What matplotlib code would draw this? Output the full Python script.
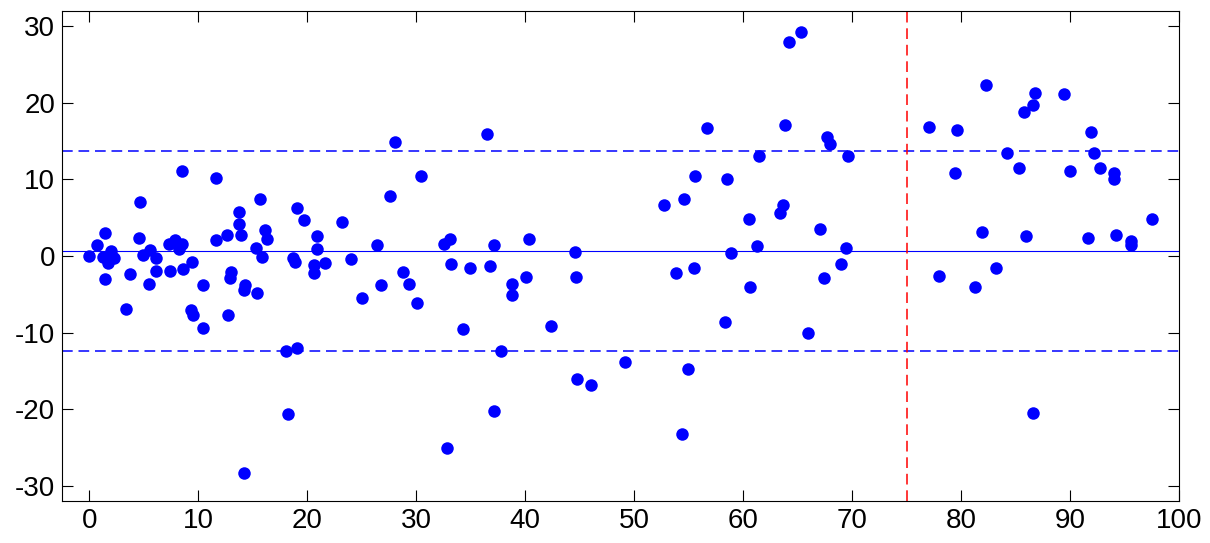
import matplotlib
matplotlib.use("Agg")
import matplotlib.pyplot as plt
import numpy as np

plt.rcParams['font.family'] = ['Liberation Sans', 'DejaVu Sans']
plt.rcParams['axes.unicode_minus'] = False

# scatter points
x_vals = [0.0, 0.7, 1.44, 1.44, 1.26, 1.72, 2.0, 2.3, 1.9, 3.4,
          3.7, 4.7, 4.6, 4.9, 5.55, 5.5, 6.1, 6.1, 7.4, 7.3,
          7.85, 8.2, 8.5, 8.5, 8.6, 9.4, 9.3, 9.5, 10.4, 10.4,
          11.6, 11.6, 12.6, 12.7, 13.0, 12.9, 13.7, 13.7, 13.9, 14.3,
          14.2, 14.2, 15.3, 15.4, 15.7, 16.1, 16.35, 15.9, 18.1, 18.2,
          19.1, 18.7, 18.85, 19.1, 19.7,
          20.9, 20.9, 20.6, 20.6, 21.6, 23.2, 24.0, 25.0, 26.4, 26.8,
          27.6, 28.1, 28.8, 29.3, 30.1, 30.4, 32.6, 33.1, 33.2, 32.8,
          34.3, 34.9, 36.5, 36.8, 37.1, 37.1, 37.8, 38.8, 38.8, 40.1,
          40.4,
          42.4, 44.6, 44.65, 44.8, 46.05, 49.2, 52.75, 53.8, 54.4, 54.6,
          54.9, 55.5, 55.6, 56.7, 58.3, 58.5, 58.9, 60.5, 60.6, 61.3,
          61.5, 63.4, 63.7, 63.8, 64.2, 65.3, 66.0, 67.1, 67.4, 67.7,
          68.0, 69.0, 69.4, 69.6,
          77.1, 78.0, 79.6, 79.4, 81.3, 81.9, 82.3, 83.2, 84.2, 85.3,
          85.8, 86.0, 86.6, 86.8, 86.6, 89.4, 90.0, 91.65, 91.9, 92.2,
          92.75, 94.0, 94.0, 94.2, 95.6, 95.6, 97.55]
y_vals = [0.0, 1.5, 3.07, -3.03, -0.1, -0.95, 0.7, -0.2, -0.1, -6.9,
          -2.4, 7.1, 2.3, 0.1, 0.8, -3.7, -0.2, -1.9, -1.9, 1.6,
          2.1, 0.9, 1.6, 11.1, -1.7, -0.8, -7.0, -7.7, -9.4, -3.8,
          2.1, 10.2, 2.8, -7.7, -2.1, -2.9, 5.8, 4.2, 2.7, -3.8,
          -4.4, -28.4, 1.0, -4.85, 7.4, 3.4, 2.2, -0.1, -12.4, -20.6,
          -12.0, -0.2, -0.8, 6.3, 4.7,
          2.6, 0.87, -1.2, -2.25, -0.95, 4.5, -0.43, -5.5, 1.4, -3.8,
          7.9, 14.9, -2.1, -3.7, -6.2, 10.5, 1.6, 2.2, -1.1, -25.1,
          -9.5, -1.6, 15.9, -1.3, 1.4, -20.2, -12.4, -3.7, -5.1, -2.8,
          2.2,
          -9.1, 0.5, -2.8, -16.1, -16.8, -13.8, 6.7, -2.25, -23.2, 7.4,
          -14.7, -1.5, 10.5, 16.7, -8.6, 10.1, 0.35, 4.9, -4.1, 1.3,
          13.1, 5.6, 6.6, 17.1, 28.0, 29.2, -10.0, 3.5, -2.9, 15.6,
          14.6, -1.1, 1.0, 13.1,
          16.85, -2.6, 16.4, 10.9, -4.0, 3.15, 22.3, -1.6, 13.5, 11.55,
          18.8, 2.6, 19.7, 21.3, -20.5, 21.2, 11.05, 2.3, 16.2, 13.5,
          11.55, 10.9, 10.0, 2.8, 1.9, 1.4, 4.9]

mean_diff = 0.63
upper_loa = 13.72
lower_loa = -12.46
split_x = 75

fig = plt.figure(figsize=(12.1, 5.43), dpi=100)
ax = fig.add_axes([0.0512, 0.0773, 0.9232, 0.9024])

ax.plot(x_vals, y_vals, 'o', color='#0000ff', markersize=9, markeredgewidth=0)
# dashes ~9 px on / 5 px off
dash = (0, (7, 3.8))
ax.axhline(mean_diff, color='#0000ff', lw=0.8)
ax.axhline(upper_loa, color='#0000ff', lw=1.1, linestyle=dash)
ax.axhline(lower_loa, color='#0000ff', lw=1.1, linestyle=dash)
ax.axvline(split_x, color='#ff0000', lw=1.1, linestyle=dash)

ax.set_xlim(-2.5, 100)
ax.set_ylim(-32, 32)
ax.set_xticks(np.arange(0, 101, 10))
ax.set_yticks(np.arange(-30, 31, 10))
ax.tick_params(direction='in', length=8, width=0.8, top=True, right=True,
               labelsize=20, pad=5)
for s in ax.spines.values():
    s.set_linewidth(0.8)

fig.savefig('out.png', dpi=100)
